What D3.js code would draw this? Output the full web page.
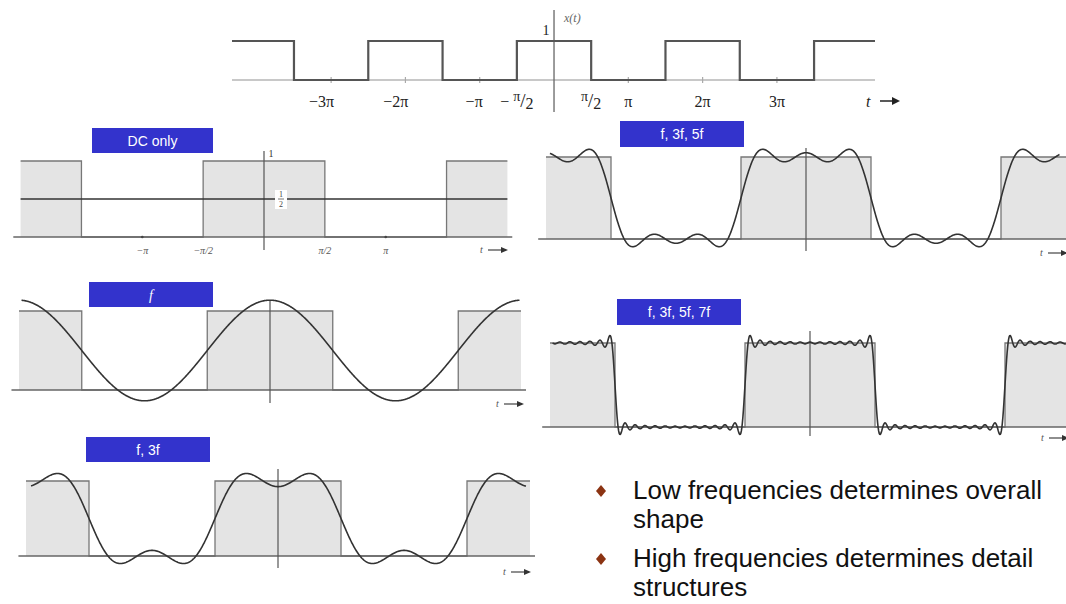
<!DOCTYPE html>
<html>
<head>
<meta charset="utf-8">
<script src="https://cdn.jsdelivr.net/npm/d3@7"></script>
<style>
  body { margin: 0; background: #fff; }
  svg { display: block; }
</style>
</head>
<body>
<div id="chart"></div>
<script>
// ---- data (x values are in multiples of pi) ----
const topEdges = [-3.5, -2.5, -1.5, -0.5, 0.5, 1.5, 2.5, 3.5];
const topTicks = [-3, -2, -1, 1, 2, 3];
const topLabelVals = [-3, -2, -1, -0.5, 0.5, 1, 2, 3];
const topLabels = ["−3π", "−2π", "−π", "−π/2", "π/2", "π", "2π", "3π"];

const panelEdges = [-1.5, -0.5, 0.5, 1.5];
const dcLabelVals = [-1, -0.5, 0.5, 1];
const dcLabels = ["−π", "−π/2", "π/2", "π"];
const dcLevel = 0.5;

const panelNames = ["DC only", "f", "f, 3f", "f, 3f, 5f", "f, 3f, 5f, 7f"];

// harmonics of each partial sum and their amplitudes
const fHarm = [1];
const fAmp = [0.637];
const f3Harm = [1, 3];
const f3Amp = [0.637, -0.212];
const f5Harm = [1, 3, 5];
const f5Amp = [0.637, -0.212, 0.127];
const f7Harm = [1, 3, 5, 7, 9, 11, 13, 15, 17, 19, 21, 23, 25];
const f7Amp = [0.637, -0.212, 0.127, -0.091, 0.071, -0.058, 0.049, -0.042, 0.037, -0.034, 0.030, -0.028, 0.025];

const bullets = [
  ["Low frequencies determines overall", "shape"],
  ["High frequencies determines detail", "structures"]
];

// ---- layout ----
const W = 1066, H = 604;
const svg = d3.select('#chart').append('svg')
  .attr('width', W)
  .attr('height', H);

const serif = "'Liberation Serif', 'DejaVu Serif', serif";
const sans = "'Liberation Sans', Arial, sans-serif";
const boxBlue = '#3333cc';
const waveColor = '#555';
const fillGray = '#e4e4e4';

// builds the corner points of a square wave between a and b
function squarePoints(edges, a, b) {
  let pts = [[a, 1]];
  let level = 1;
  edges.forEach((e) => {
    if (e <= a || e >= b) return;
    pts.push([e, level]);
    level = 1 - level;
    pts.push([e, level]);
  });
  pts.push([b, level]);
  return pts;
}

function arrowT(g, x, y, len) {
  g.append('text')
    .attr('x', x).attr('y', y)
    .attr('font-family', serif).attr('font-style', 'italic')
    .attr('font-size', 10).attr('fill', '#555')
    .text('t');
  g.append('line')
    .attr('x1', x + 8).attr('x2', x + 8 + len)
    .attr('y1', y - 3).attr('y2', y - 3)
    .attr('stroke', '#444').attr('stroke-width', 1.2);
  g.append('path')
    .attr('d', `M${x + 8 + len + 2},${y - 3} l-7,-3 l0,6 z`)
    .attr('fill', '#333');
}

// ************** top panel: x(t) **************
const xTop = d3.scaleLinear().domain([-4.334, 4.32]).range([232, 875]);
const yTop = d3.scaleLinear().domain([0, 1]).range([80, 41]);
const topG = svg.append('g');

topG.append('line')
  .attr('x1', xTop.range()[0]).attr('x2', xTop.range()[1])
  .attr('y1', yTop(0)).attr('y2', yTop(0))
  .attr('stroke', '#c8c8c8').attr('stroke-width', 2);

topG.selectAll('line.tick')
  .data(topTicks)
  .enter().append('line')
  .attr('class', 'tick')
  .attr('x1', (d) => xTop(d)).attr('x2', (d) => xTop(d))
  .attr('y1', yTop(0) - 3).attr('y2', yTop(0) + 3)
  .attr('stroke', '#aaa').attr('stroke-width', 1.2);

topG.append('line')
  .attr('x1', xTop(0)).attr('x2', xTop(0))
  .attr('y1', 10).attr('y2', 112)
  .attr('stroke', '#666').attr('stroke-width', 1.3);

topG.append('path')
  .attr('d', d3.line().x((d) => xTop(d[0])).y((d) => yTop(d[1]))(
    squarePoints(topEdges, xTop.domain()[0], xTop.domain()[1])))
  .attr('fill', 'none')
  .attr('stroke', waveColor).attr('stroke-width', 2.2);

topG.selectAll('text.lab')
  .data(topLabelVals)
  .enter().append('text')
  .attr('class', 'lab')
  .attr('x', (d) => xTop(d) + (d <= -1 ? 3 : 0))
  .attr('y', 107)
  .attr('text-anchor', (d) => d <= -1 ? 'end' : 'middle')
  .attr('font-family', serif).attr('font-size', 16).attr('fill', '#222')
  .each(function(d, i) {
    const t = d3.select(this);
    const s = topLabels[i];
    if (s.endsWith('/2')) {
      const pre = s.startsWith('−') ? '− ' : '';
      t.append('tspan').text(pre);
      t.append('tspan').attr('dy', -6).attr('font-size', 14).text('π');
      t.append('tspan').attr('dy', 6).attr('font-size', 19).text('/');
      t.append('tspan').attr('dy', 2).attr('font-size', 16).text('2');
    } else {
      t.text(s);
    }
  });

topG.append('text')
  .attr('x', 546).attr('y', 35)
  .attr('text-anchor', 'middle')
  .attr('font-family', serif).attr('font-size', 14).attr('fill', '#222')
  .text('1');
topG.append('text')
  .attr('x', 564).attr('y', 22)
  .attr('font-family', serif).attr('font-style', 'italic')
  .attr('font-size', 12).attr('fill', '#666')
  .text('x(t)');

topG.append('text')
  .attr('x', 866).attr('y', 107)
  .attr('font-family', serif).attr('font-style', 'italic')
  .attr('font-size', 16).attr('fill', '#222')
  .text('t');
topG.append('line')
  .attr('x1', 880).attr('x2', 893).attr('y1', 101).attr('y2', 101)
  .attr('stroke', '#222').attr('stroke-width', 1.5);
topG.append('path')
  .attr('d', 'M900,101 l-8,-4 l0,8 z')
  .attr('fill', '#222');

// ************** partial-sum panels **************
const panels = [
  {name: panelNames[0], level: dcLevel, center: 264, pi: 121.7, yBase: 237, yTop: 161,
   axis: [151, 250], box: [92, 128, 121, 25], arrow: [480, 253, 18], curve: [-2, 2]},
  {name: panelNames[1], harm: fHarm, amp: fAmp, center: 270, pi: 125.5, yBase: 390, yTop: 311,
   axis: [300, 403], box: [89, 282, 124, 25], arrow: [496, 407, 18], curve: [-1.98, 1.99], italic: true},
  {name: panelNames[2], harm: f3Harm, amp: f3Amp, center: 278, pi: 126, yBase: 556, yTop: 481,
   axis: [469, 568], box: [86, 437, 124, 25], arrow: [503, 575, 18], curve: [-1.96, 1.97]},
  {name: panelNames[3], harm: f5Harm, amp: f5Amp, center: 806, pi: 130, yBase: 239, yTop: 157,
   axis: [148, 251], box: [620, 121, 124, 26], arrow: [1040, 256, 18], curve: [-1.97, 1.95]},
  {name: panelNames[4], harm: f7Harm, amp: f7Amp, center: 810, pi: 130, yBase: 427, yTop: 343,
   axis: [331, 436], box: [617, 299, 124, 26], arrow: [1041, 441, 18], curve: [-1.98, 1.97]}
];

panels.forEach((p, idx) => {
  const g = svg.append('g');
  const x = d3.scaleLinear().domain([-2, 2]).range([p.center - 2 * p.pi, p.center + 2 * p.pi]);
  const y = d3.scaleLinear().domain([0, 1]).range([p.yBase, p.yTop]);
  const pts = squarePoints(panelEdges, -2, 2);

  // gray pulses
  g.append('path')
    .attr('d', d3.area().x((d) => x(d[0])).y0(y(0)).y1((d) => y(d[1]))(pts))
    .attr('fill', fillGray);

  // pulse outline
  g.append('path')
    .attr('d', d3.line().x((d) => x(d[0])).y((d) => y(d[1]))(pts))
    .attr('fill', 'none')
    .attr('stroke', '#777').attr('stroke-width', 1.3);

  // baseline
  g.append('line')
    .attr('x1', x(-2.06)).attr('x2', x(2.04))
    .attr('y1', y(0)).attr('y2', y(0))
    .attr('stroke', '#666').attr('stroke-width', 1.5);

  // vertical axis
  g.append('line')
    .attr('x1', x(0)).attr('x2', x(0))
    .attr('y1', p.axis[0]).attr('y2', p.axis[1])
    .attr('stroke', '#555').attr('stroke-width', 1.2);

  // approximation curve
  let curveData;
  if (p.level !== undefined) {
    curveData = [[p.curve[0], p.level], [p.curve[1], p.level]];
  } else {
    curveData = d3.range(p.curve[0], p.curve[1] + 0.001, 0.004).map((u) => {
      let v = 0.5;
      p.harm.forEach((h, k) => { v += p.amp[k] * Math.cos(h * Math.PI * u); });
      return [u, v];
    });
  }
  g.append('path')
    .attr('d', d3.line().x((d) => x(d[0])).y((d) => y(d[1]))(curveData))
    .attr('fill', 'none')
    .attr('stroke', '#333').attr('stroke-width', p.level !== undefined ? 1.3 : 1.6);

  // DC panel extras
  if (idx === 0) {
    g.selectAll('circle.tk')
      .data([-1, 1])
      .enter().append('circle')
      .attr('cx', (d) => x(d)).attr('cy', y(0)).attr('r', 1.3)
      .attr('fill', '#444');
    g.selectAll('text.lab')
      .data(dcLabelVals)
      .enter().append('text')
      .attr('x', (d) => x(d)).attr('y', 254)
      .attr('text-anchor', 'middle')
      .attr('font-family', serif).attr('font-style', 'italic')
      .attr('font-size', 10).attr('fill', '#555')
      .text((d, i) => dcLabels[i]);
    g.append('text')
      .attr('x', x(0) + 7).attr('y', 157)
      .attr('text-anchor', 'middle')
      .attr('font-family', serif).attr('font-size', 10).attr('fill', '#333')
      .text('1');
    g.append('rect')
      .attr('x', x(0) + 11).attr('y', 190).attr('width', 12).attr('height', 19)
      .attr('fill', '#fff');
    g.append('text')
      .attr('x', x(0) + 17).attr('y', 197)
      .attr('text-anchor', 'middle')
      .attr('font-family', serif).attr('font-size', 8).attr('fill', '#444')
      .text('1');
    g.append('line')
      .attr('x1', x(0) + 14).attr('x2', x(0) + 20).attr('y1', 199).attr('y2', 199)
      .attr('stroke', '#555').attr('stroke-width', 0.8);
    g.append('text')
      .attr('x', x(0) + 17).attr('y', 207)
      .attr('text-anchor', 'middle')
      .attr('font-family', serif).attr('font-size', 8).attr('fill', '#444')
      .text('2');
  }

  arrowT(g, p.arrow[0], p.arrow[1], p.arrow[2]);

  // blue caption box
  g.append('rect')
    .attr('x', p.box[0]).attr('y', p.box[1])
    .attr('width', p.box[2]).attr('height', p.box[3])
    .attr('fill', boxBlue);
  g.append('text')
    .attr('x', p.box[0] + p.box[2] / 2).attr('y', p.box[1] + p.box[3] / 2 + 5)
    .attr('text-anchor', 'middle')
    .attr('font-family', p.italic ? serif : sans)
    .attr('font-style', p.italic ? 'italic' : 'normal')
    .attr('font-size', 14).attr('fill', '#fff')
    .text(p.name);
});

// ************** bullets **************
const bl = svg.append('g');
const bulletTop = [499, 567];
bullets.forEach((lines, i) => {
  const by = bulletTop[i];
  bl.append('path')
    .attr('d', `M601,${by - 14} l5,6 l-5,6 l-5,-6 z`)
    .attr('fill', '#8b3312');
  lines.forEach((s, j) => {
    bl.append('text')
      .attr('x', 633).attr('y', by + j * 29)
      .attr('font-family', sans).attr('font-size', 26).attr('fill', '#111')
      .text(s);
  });
});
</script>
</body>
</html>
